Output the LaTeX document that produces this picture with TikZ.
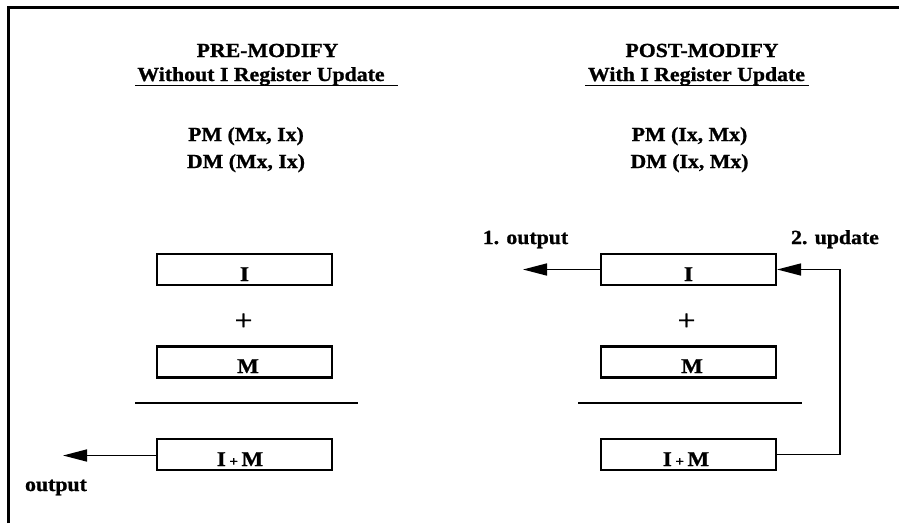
\documentclass[tikz,border=0pt]{standalone}
\usepackage{fontspec}
\setmainfont[FakeStretch=1.09,FakeBold=1.0]{Liberation Serif}
\usetikzlibrary{arrows.meta}
\begin{document}
\begin{tikzpicture}[x=1pt,y=-1pt,
  txt/.style={font=\bfseries\fontsize{20}{23}\selectfont, inner sep=0pt, anchor=base},
  boxtxt/.style={font=\bfseries\fontsize{21}{23}\selectfont, inner sep=0pt, anchor=base},
  plustxt/.style={font=\fontsize{29}{29}\selectfont, inner sep=0pt, anchor=base},
  reg/.style={draw, line width=2.2pt, minimum width=175pt, minimum height=31pt, inner sep=0pt},
  conn/.style={line width=1.6pt},
  arr/.style={conn, -{Triangle[length=24pt,width=12pt]}},
  rule/.style={line width=1.5pt}]
\useasboundingbox (0,0) rectangle (899,523);
% frame (top and left only)
\draw[line width=3pt] (8,523) -- (8,7) -- (899,7);

% ---------- left panel ----------
\node[txt] (preT) at (267.5,57) {PRE-MODIFY};
\node[txt] (preS) at (261,81) {Without I Register Update};
\draw[line width=1.4pt] (135,85.5) -- (398,85.5);
\node[txt] (prePM) at (246,141) {PM (Mx, Ix)};
\node[txt] (preDM) at (246,168) {DM (Mx, Ix)};

\node[reg] (LI) at (244.5,269.5) {};
\node[boxtxt] at (244.5,281) {I};
\node[plustxt] (Lplus) at (243.5,330) {+};
\node[reg] (LM) at (244.5,362) {};
\node[boxtxt] at (248,373) {M};
\draw[rule] (135,403) -- (358,403);
\node[reg] (LIM) at (244.5,454.5) {};
\node[boxtxt] at (240,466) {I\,{\fontsize{14}{14}\selectfont+}\,M};
\coordinate (Lout) at (63,455.5);
\draw[arr] (LIM.west |- Lout) -- (Lout);
\node[txt] (Loutl) at (56,491) {output};

% ---------- right panel ----------
\node[txt] (postT) at (702,57) {POST-MODIFY};
\node[txt] (postS) at (696.5,81) {With I Register Update};
\draw[line width=1.4pt] (585,85.5) -- (809,85.5);
\node[txt] (postPM) at (689.5,141) {PM (Ix, Mx)};
\node[txt] (postDM) at (689.5,168) {DM (Ix, Mx)};

\node[reg] (RI) at (688.5,269.5) {};
\node[boxtxt] at (688.5,281) {I};
\node[plustxt] (Rplus) at (686.5,330) {+};
\node[reg] (RM) at (688.5,362) {};
\node[boxtxt] at (692,373) {M};
\draw[rule] (578,403) -- (802,403);
\node[reg] (RIM) at (688.5,454.5) {};
\node[boxtxt] at (686,466) {I\,{\fontsize{14}{14}\selectfont+}\,M};

\coordinate (Rout) at (523,269.5);
\draw[arr] (RI.west) -- (Rout);
\node[txt] (Routl) at (525.5,244) {1. output};
\draw[arr] (RIM.east) -- (840,454.5) -- (840,269.5) -- (RI.east);
\node[txt] (Rupd) at (835,244) {2. update};
\end{tikzpicture}
\end{document}
